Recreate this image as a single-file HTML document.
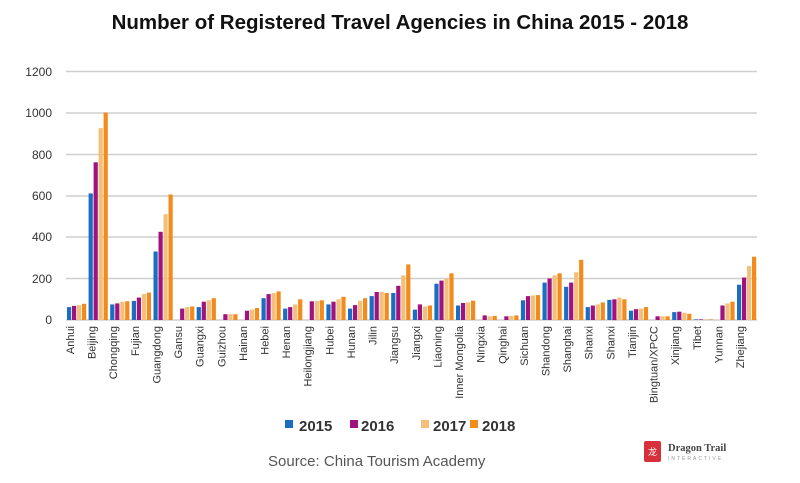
<!DOCTYPE html>
<html><head><meta charset="utf-8"><style>
body{margin:0;background:#fff;width:800px;height:478px;overflow:hidden;font-family:"Liberation Sans",sans-serif}
</style></head><body>
<svg width="800" height="478" xmlns="http://www.w3.org/2000/svg" font-family="Liberation Sans, sans-serif">
<text x="400" y="29" text-anchor="middle" font-size="20.5" font-weight="bold" fill="#111">Number of Registered Travel Agencies in China 2015 - 2018</text>
<g stroke="#cfcfcf" stroke-width="1.5">
<line x1="66" x2="757" y1="71.5" y2="71.5"/><line x1="66" x2="757" y1="113" y2="113"/><line x1="66" x2="757" y1="154.5" y2="154.5"/><line x1="66" x2="757" y1="196" y2="196"/><line x1="66" x2="757" y1="237" y2="237"/><line x1="66" x2="757" y1="278.5" y2="278.5"/><line x1="66" x2="757" y1="320" y2="320"/>
</g>
<g font-size="12" fill="#333" text-anchor="end">
<text x="52" y="76">1200</text><text x="52" y="117">1000</text><text x="52" y="159">800</text><text x="52" y="200">600</text><text x="52" y="241">400</text><text x="52" y="283">200</text><text x="52" y="324">0</text>
</g>
<g id="bars"></g>
<g id="labels" font-size="11" fill="#333"></g>
<g font-size="15" fill="#333" font-weight="bold">
<rect x="285" y="420" width="8" height="8" fill="#1a6dc0"/><text x="299" y="431">2015</text>
<rect x="350" y="420" width="8" height="8" fill="#a0127f"/><text x="361" y="431">2016</text>
<rect x="421" y="420" width="8" height="8" fill="#f4bf78"/><text x="433" y="431">2017</text>
<rect x="470" y="420" width="8" height="8" fill="#f28a1c"/><text x="482" y="431">2018</text>
</g>
<text x="268" y="466" font-size="15" fill="#555">Source: China Tourism Academy</text>
<rect x="644" y="441" width="17" height="21" rx="2" fill="#d8303a"/>
<text x="652.5" y="455" font-size="9" fill="#fff" text-anchor="middle" font-family="Noto Sans CJK SC, sans-serif">龙</text>
<text x="668" y="451" font-size="10.5" font-weight="bold" fill="#444" font-family="Liberation Serif, serif">Dragon Trail</text>
<text x="668" y="460" font-size="5" fill="#999" letter-spacing="2">INTERACTIVE</text>
</svg>
<script>
const names=["Anhui","Beijing","Chongqing","Fujian","Guangdong","Gansu","Guangxi","Guizhou","Hainan","Hebei","Henan","Heilongjiang","Hubei","Hunan","Jilin","Jiangsu","Jiangxi","Liaoning","Inner Mongolia","Ningxia","Qinghai","Sichuan","Shandong","Shanghai","Shanxi","Shanxi","Tianjin","Bingtuan/XPCC","Xinjiang","Tibet","Yunnan","Zhejiang"];
const d=[[62,68,72,78],[610,760,925,1000],[75,80,88,90],[92,108,125,132],[330,425,510,605],[0,55,62,65],[62,88,95,105],[0,28,28,28],[0,45,50,58],[105,125,130,138],[55,62,75,100],[0,90,92,95],[75,88,100,112],[55,72,92,105],[115,135,135,130],[130,165,215,268],[50,75,65,70],[175,190,200,225],[70,82,85,93],[0,22,18,20],[0,18,20,22],[95,115,118,120],[180,200,215,225],[160,180,230,290],[62,70,75,85],[97,100,108,100],[45,52,55,62],[0,18,18,18],[38,40,35,30],[3,3,3,3],[0,70,80,88],[170,205,260,305]];
const cols=["#1a6dc0","#a0127f","#f4bf78","#f28a1c"];
const n=names.length, x0=77, x1=747, sp=(x1-x0)/(n-1);
let b="",l="";
for(let i=0;i<n;i++){const cx=x0+i*sp;
 for(let j=0;j<4;j++){const v=d[i][j];if(!v)continue;const h=v*0.2075;b+=`<rect x="${(cx-10+j*5).toFixed(1)}" y="${(320-h).toFixed(1)}" width="4.2" height="${h.toFixed(1)}" fill="${cols[j]}"/>`;}
 l+=`<text transform="translate(${(cx-3).toFixed(1)},326) rotate(-90)" text-anchor="end">${names[i]}</text>`;}
document.getElementById("bars").innerHTML=b;document.getElementById("labels").innerHTML=l;
</script>
</body></html>
